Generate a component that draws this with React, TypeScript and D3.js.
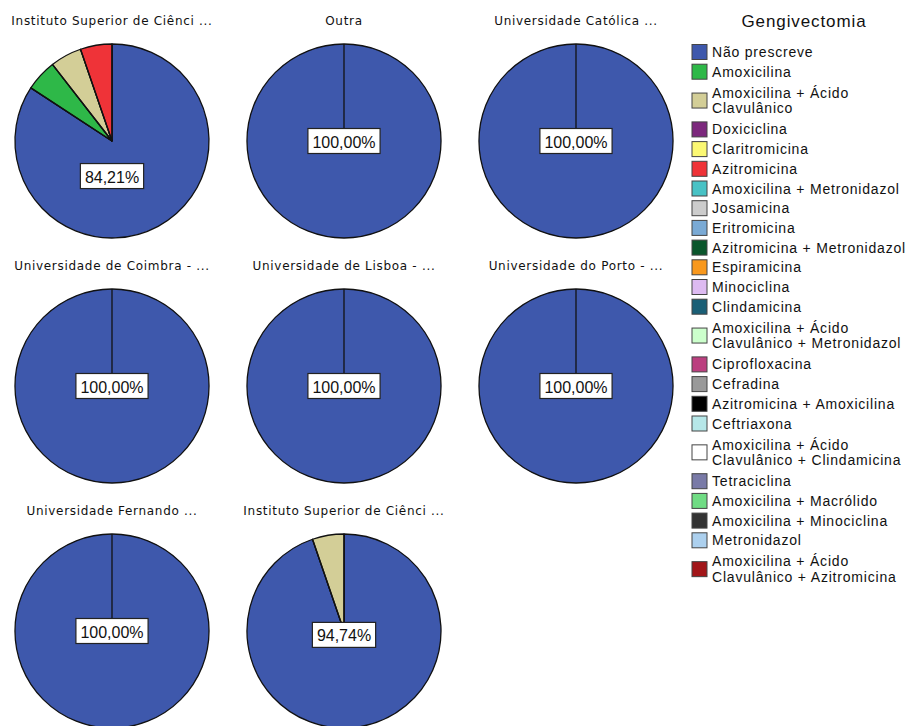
import React, { useEffect, useRef } from "react";
import * as d3 from "d3";

// Categories of the "Gengivectomia" variable, in legend / slice order.
const categories: string[][] = [
  ["Não prescreve"],
  ["Amoxicilina"],
  ["Amoxicilina + Ácido", "Clavulânico"],
  ["Doxiciclina"],
  ["Claritromicina"],
  ["Azitromicina"],
  ["Amoxicilina + Metronidazol"],
  ["Josamicina"],
  ["Eritromicina"],
  ["Azitromicina + Metronidazol"],
  ["Espiramicina"],
  ["Minociclina"],
  ["Clindamicina"],
  ["Amoxicilina + Ácido", "Clavulânico + Metronidazol"],
  ["Ciprofloxacina"],
  ["Cefradina"],
  ["Azitromicina + Amoxicilina"],
  ["Ceftriaxona"],
  ["Amoxicilina + Ácido", "Clavulânico + Clindamicina"],
  ["Tetraciclina"],
  ["Amoxicilina + Macrólido"],
  ["Amoxicilina + Minociclina"],
  ["Metronidazol"],
  ["Amoxicilina + Ácido", "Clavulânico + Azitromicina"],
];

const colors: string[] = [
  "#3e58ac", "#2eb848", "#d3ce97", "#7c287d", "#fbf873", "#ef3338",
  "#48c2c5", "#cccccc", "#7aaad5", "#0a562c", "#f8981d", "#ddbaf1",
  "#1a5f76", "#ccffcc", "#bb3f7f", "#999999", "#000000", "#b6e7e8",
  "#ffffff", "#797aa7", "#70dc84", "#333333", "#acd0ee", "#a21619",
];

// Panel titles (institution), as shown.
const panelTitles: string[] = [
  "Instituto Superior de Ciênci ...",
  "Outra",
  "Universidade Católica ...",
  "Universidade de Coimbra - ...",
  "Universidade de Lisboa - ...",
  "Universidade do Porto - ...",
  "Universidade Fernando ...",
  "Instituto Superior de Ciênci ...",
];

// Percentage per category index for each panel.
const panel1: [number, number][] = [[0, 84.21], [1, 5.26], [2, 5.26], [5, 5.26]];
const panel2: [number, number][] = [[0, 100]];
const panel3: [number, number][] = [[0, 100]];
const panel4: [number, number][] = [[0, 100]];
const panel5: [number, number][] = [[0, 100]];
const panel6: [number, number][] = [[0, 100]];
const panel7: [number, number][] = [[0, 100]];
const panel8: [number, number][] = [[0, 94.74], [2, 5.26]];
const panels = [panel1, panel2, panel3, panel4, panel5, panel6, panel7, panel8];

const legendTitle = "Gengivectomia";

const W = 913;
const H = 726;

export default function App() {
  const ref = useRef<SVGSVGElement | null>(null);

  useEffect(() => {
    const svg = d3.select(ref.current);
    svg.selectAll("*").remove();

    const R = 97;
    const colX = d3.scalePoint<number>().domain([0, 1, 2]).range([112, 576]);
    const rowY = d3.scalePoint<number>().domain([0, 1, 2]).range([141, 631]);

    const pie = d3
      .pie<[number, number]>()
      .sort(null)
      .value((d) => d[1]);
    const arc = d3.arc<d3.PieArcDatum<[number, number]>>().innerRadius(0).outerRadius(R);

    panels.forEach((data, i) => {
      const cx = colX(i % 3)!;
      const cy = rowY(Math.floor(i / 3))!;
      const g = svg.append("g").attr("transform", `translate(${cx},${cy})`);

      svg
        .append("text")
        .attr("x", cx)
        .attr("y", cy - 120)
        .attr("text-anchor", "middle")
        .attr("dominant-baseline", "central")
        .style("font-family", "DejaVu Sans, sans-serif")
        .style("font-size", "12px")
        .style("letter-spacing", "0.7px")
        .attr("fill", "#111")
        .text(panelTitles[i]);

      const arcs = pie(data);
      g.selectAll("path.slice")
        .data(arcs)
        .enter()
        .append("path")
        .attr("class", "slice")
        .attr("d", arc)
        .attr("fill", (d) => colors[d.data[0]])
        .attr("stroke", "#111")
        .attr("stroke-width", 1.3)
        .attr("stroke-linejoin", "round");

      // radial edges at each slice start (also visible on a full circle)
      g.selectAll("line.edge")
        .data(arcs)
        .enter()
        .append("line")
        .attr("class", "edge")
        .attr("x1", 0)
        .attr("y1", 0)
        .attr("x2", (d) => R * Math.sin(d.startAngle))
        .attr("y2", (d) => -R * Math.cos(d.startAngle))
        .attr("stroke", "#111")
        .attr("stroke-width", 1.3);

      // value label on the largest wedge, pushed below the small wedges
      const main = arcs[0];
      const p = main.data[1] / 100;
      const drop = R * 14.5 * (1 - p) * (1 - p);
      const label = d3.format(".2f")(main.data[1]).replace(".", ",") + "%";
      const lg = g.append("g").attr("transform", `translate(0,${drop})`);
      const rect = lg.append("rect").attr("fill", "#fff").attr("stroke", "#222").attr("stroke-width", 1.2);
      const t = lg
        .append("text")
        .attr("text-anchor", "middle")
        .attr("dominant-baseline", "central")
        .attr("y", 1)
        .style("font-family", "Liberation Sans, Arial, sans-serif")
        .style("font-size", "16px")
        .attr("fill", "#111")
        .text(label);
      const tw = (t.node() as SVGTextElement).getComputedTextLength();
      const bw = tw + 9;
      const bh = 25;
      rect.attr("x", -bw / 2).attr("y", -bh / 2).attr("width", bw).attr("height", bh);
    });

    // legend
    const lx = 692;
    svg
      .append("text")
      .attr("x", 804)
      .attr("y", 21)
      .attr("text-anchor", "middle")
      .attr("dominant-baseline", "central")
      .style("font-family", "Liberation Sans, Arial, sans-serif")
      .style("font-size", "17px")
      .style("letter-spacing", "0.9px")
      .attr("fill", "#111")
      .text(legendTitle);

    const single = 19.7;
    const extra = 18.3;
    const lineGap = 15.5;
    let top = 52 - single / 2;
    categories.forEach((lines, i) => {
      const h = single + (lines.length - 1) * extra;
      const cy = top + h / 2;
      svg
        .append("rect")
        .attr("x", lx)
        .attr("y", cy - 7.5)
        .attr("width", 15)
        .attr("height", 15)
        .attr("fill", colors[i])
        .attr("stroke", "#444")
        .attr("stroke-width", 1);
      lines.forEach((ln, j) => {
        svg
          .append("text")
          .attr("x", lx + 20)
          .attr("y", cy + (j - (lines.length - 1) / 2) * lineGap)
          .attr("dominant-baseline", "central")
          .style("font-family", "Liberation Sans, Arial, sans-serif")
          .style("font-size", "14px")
          .style("letter-spacing", "0.8px")
          .attr("fill", "#111")
          .text(ln);
      });
      top += h;
    });
  }, []);

  return (
    <svg
      ref={ref}
      width={W}
      height={H}
      style={{ position: "absolute", left: 0, top: 0, background: "#fff" }}
    />
  );
}
